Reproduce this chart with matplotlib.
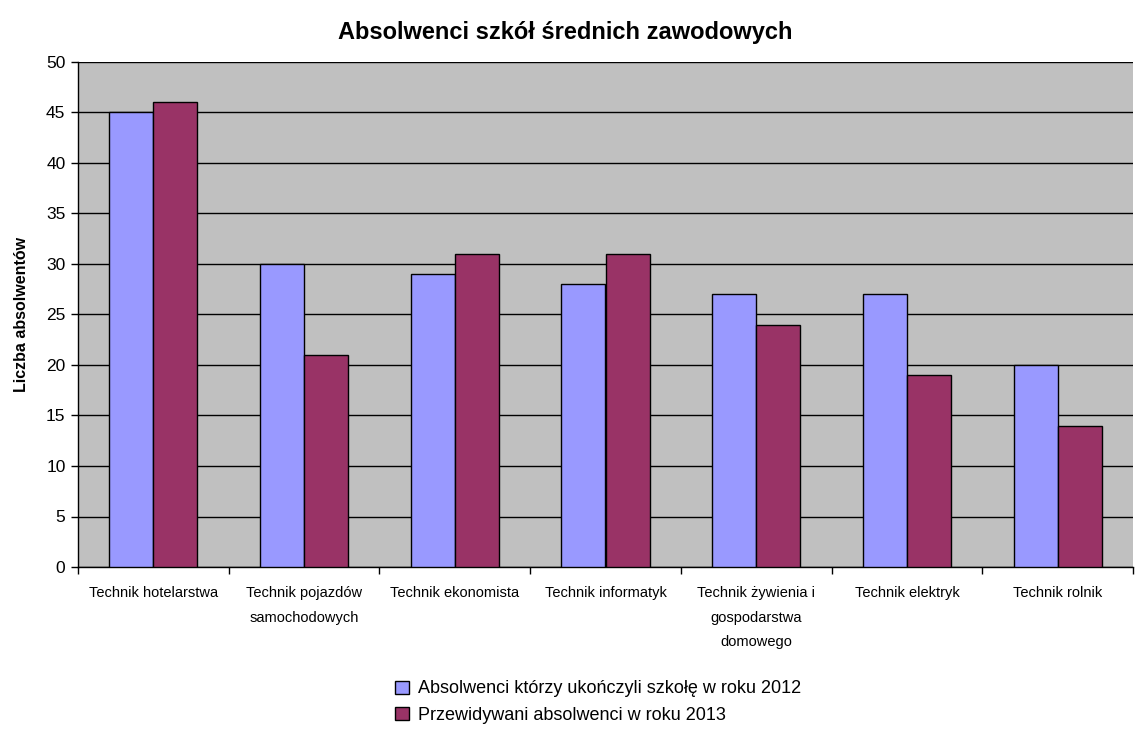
import numpy as np
import matplotlib
matplotlib.use('Agg')
import matplotlib.pyplot as plt

plt.rcParams['font.family'] = ['Liberation Sans', 'DejaVu Sans']

# Data
categories = ['Technik hotelarstwa', 'Technik pojazdów\nsamochodowych', 'Technik ekonomista',
              'Technik informatyk', 'Technik żywienia i\ngospodarstwa\ndomowego',
              'Technik elektryk', 'Technik rolnik']
grads_2012 = [45, 30, 29, 28, 27, 27, 20]
grads_2013 = [46, 21, 31, 31, 24, 19, 14]
labels = ['Absolwenci którzy ukończyli szkołę w roku 2012',
          'Przewidywani absolwenci w roku 2013']

fig = plt.figure(figsize=(11.37, 7.31), dpi=100)
ax = fig.add_axes([78 / 1137, 1 - 567 / 731, (1133 - 78) / 1137, (567 - 62) / 731])
ax.set_facecolor('#C0C0C0')

x = np.arange(len(categories))
w = 0.292
ax.bar(x - w / 2, grads_2012, width=w, color='#9999FF', edgecolor='black', linewidth=1.0,
       label=labels[0], zorder=3)
ax.bar(x + w / 2, grads_2013, width=w, color='#993366', edgecolor='black', linewidth=1.0,
       label=labels[1], zorder=3)

ax.set_xlim(-0.5, len(categories) - 0.5)
ax.set_ylim(0, 50)
ax.set_yticks(range(0, 51, 5))
ax.yaxis.grid(True, color='black', linewidth=1.0, zorder=1)
ax.set_axisbelow(True)

# category labels between boundary ticks
ax.set_xticks(np.arange(-0.5, len(categories)), minor=False)
ax.set_xticklabels([])
ax.set_xticks(x, minor=True)
ax.set_xticklabels(categories, minor=True, fontsize=10.5, linespacing=1.95, va='top')
ax.tick_params(axis='x', which='minor', length=0, pad=14)
ax.tick_params(axis='x', which='major', length=5, width=1, color='black')
ax.tick_params(axis='y', length=5, width=1, labelsize=12.5, pad=4)

for s in ['top', 'right']:
    ax.spines[s].set_visible(False)
ax.spines['left'].set_linewidth(1.0)
ax.spines['bottom'].set_linewidth(1.0)

ax.set_ylabel('Liczba absolwentów', fontsize=11.5, fontweight='bold', labelpad=12)
fig.text(565 / 1137, 1 - 32 / 731, 'Absolwenci szkół średnich zawodowych', fontsize=17,
         fontweight='bold', ha='center', va='center')

fig.legend(loc='center', bbox_to_anchor=(598 / 1137, 1 - 702 / 731), frameon=False,
           fontsize=13, handlelength=0.75, handleheight=0.75, handletextpad=0.5,
           labelspacing=0.5)

fig.savefig('out.png', dpi=100)
